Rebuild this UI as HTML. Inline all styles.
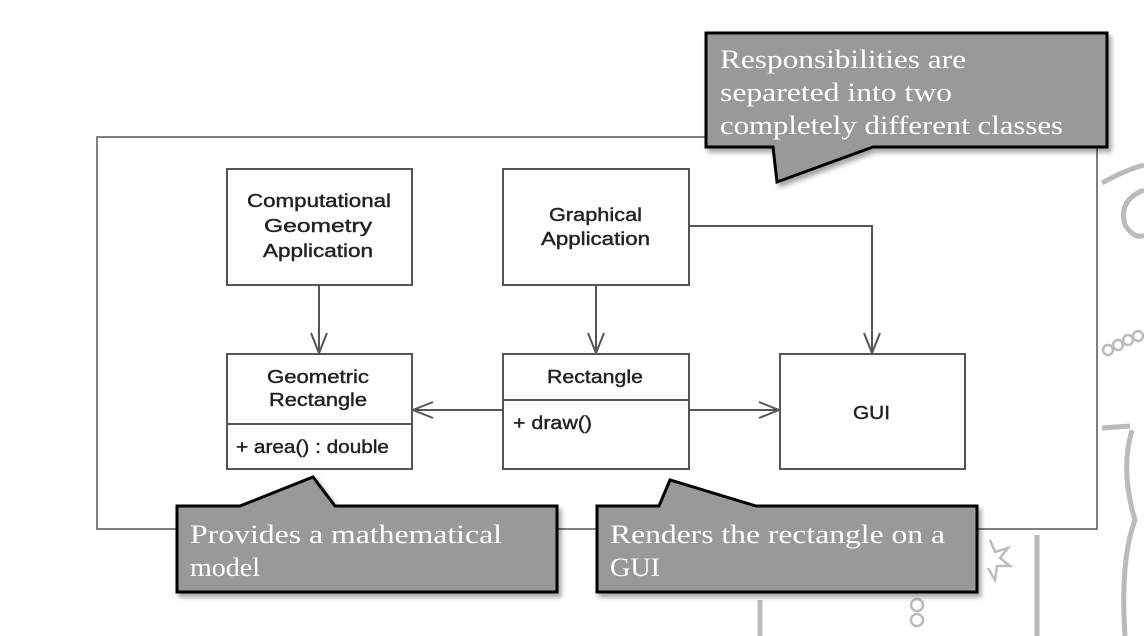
<!DOCTYPE html>
<html><head><meta charset="utf-8"><style>
html,body{margin:0;padding:0;background:#fff;}
svg{display:block;}
.u{font-family:"Liberation Sans",sans-serif;font-size:18px;fill:#222;stroke:#222;stroke-width:0.4;}
.c{font-family:"Liberation Serif",serif;font-size:26px;fill:#fff;}
</style></head><body>
<svg width="1144" height="636" viewBox="0 0 1144 636" xmlns="http://www.w3.org/2000/svg">
<defs>
<filter id="sh" x="-5%" y="-5%" width="115%" height="125%"><feDropShadow dx="3" dy="4" stdDeviation="2.5" flood-color="#000" flood-opacity="0.35"/></filter>
</defs>
<g fill="none" stroke="#bbb" stroke-width="5">
<path d="M1102 183 Q1125 170 1144 165"/>
<path d="M1144 190 Q1118 200 1125 225 Q1135 240 1144 235"/>
<path d="M1102 428 L1130 426"/>
<path d="M1132 430 Q1120 470 1135 520 Q1120 560 1125 636"/>
<path d="M1037 535 L1037 636"/>
<path d="M760 600 L760 636"/>
</g>
<g fill="none" stroke="#bbb" stroke-width="2.5">
<circle cx="1108" cy="350" r="5"/><circle cx="1118" cy="345" r="5"/><circle cx="1128" cy="340" r="5"/><circle cx="1138" cy="336" r="5"/>
<circle cx="917" cy="605" r="6"/><circle cx="917" cy="620" r="6"/>
<path d="M990 540 L995 552 L1008 548 L1000 558 L1010 566 L997 566 L995 580 L988 568"/>
</g>
<rect x="97" y="137" width="1000" height="392" fill="none" stroke="#555" stroke-width="1.5"/>
<g fill="#fff" stroke="#555" stroke-width="2">
<rect x="227" y="169" width="185" height="116"/>
<rect x="503" y="169" width="186" height="116"/>
<rect x="227" y="354" width="185" height="115"/>
<rect x="503" y="354" width="186" height="115"/>
<rect x="780" y="354" width="185" height="115"/>
<line x1="227" y1="424" x2="412" y2="424"/>
<line x1="503" y1="400" x2="689" y2="400"/>
</g>
<g fill="none" stroke="#555" stroke-width="2">
<line x1="319" y1="285" x2="319" y2="353"/>
<polyline points="311,333 319,353 327,333"/>
<line x1="596" y1="285" x2="596" y2="353"/>
<polyline points="588,333 596,353 604,333"/>
<polyline points="689,226 872,226 872,353"/>
<polyline points="864,333 872,353 880,333"/>
<line x1="503" y1="410" x2="413" y2="410"/>
<polyline points="433,402 413,410 433,418"/>
<line x1="689" y1="410" x2="779" y2="410"/>
<polyline points="759,402 779,410 759,418"/>
</g>
<g class="u">
<text x="247" y="207" textLength="144" lengthAdjust="spacingAndGlyphs">Computational</text>
<text x="264" y="232" textLength="108" lengthAdjust="spacingAndGlyphs">Geometry</text>
<text x="263" y="257" textLength="110" lengthAdjust="spacingAndGlyphs">Application</text>
<text x="549" y="221" textLength="93" lengthAdjust="spacingAndGlyphs">Graphical</text>
<text x="541" y="245" textLength="109" lengthAdjust="spacingAndGlyphs">Application</text>
<text x="267" y="383" textLength="102" lengthAdjust="spacingAndGlyphs">Geometric</text>
<text x="269" y="406" textLength="98" lengthAdjust="spacingAndGlyphs">Rectangle</text>
<text x="547" y="383" textLength="96" lengthAdjust="spacingAndGlyphs">Rectangle</text>
<text x="853" y="419" textLength="37" lengthAdjust="spacingAndGlyphs">GUI</text>
<text x="236" y="453" textLength="153" lengthAdjust="spacingAndGlyphs">+ area() : double</text>
<text x="513" y="429" textLength="79" lengthAdjust="spacingAndGlyphs">+ draw()</text>
</g>
<g fill="#999" stroke="#000" stroke-width="3" stroke-linejoin="miter" filter="url(#sh)">
<path d="M706 33 L1107 33 L1107 147 L873 147 L777 182 L773 147 L706 147 Z"/>
<path d="M177 506 L240 506 L313 477 L335 506 L557 506 L557 592 L177 592 Z"/>
<path d="M597 506 L659 506 L670 480 L756 506 L977 506 L977 592 L597 592 Z"/>
</g>
<g class="c">
<text x="720" y="68" textLength="246" lengthAdjust="spacingAndGlyphs">Responsibilities are</text>
<text x="720" y="101" textLength="232" lengthAdjust="spacingAndGlyphs">separeted into two</text>
<text x="720" y="134" textLength="343" lengthAdjust="spacingAndGlyphs">completely different classes</text>
<text x="190" y="543" textLength="312" lengthAdjust="spacingAndGlyphs">Provides a mathematical</text>
<text x="190" y="576" textLength="70" lengthAdjust="spacingAndGlyphs">model</text>
<text x="610" y="543" textLength="335" lengthAdjust="spacingAndGlyphs">Renders the rectangle on a</text>
<text x="610" y="576" textLength="50" lengthAdjust="spacingAndGlyphs">GUI</text>
</g>
</svg>
</body></html>
